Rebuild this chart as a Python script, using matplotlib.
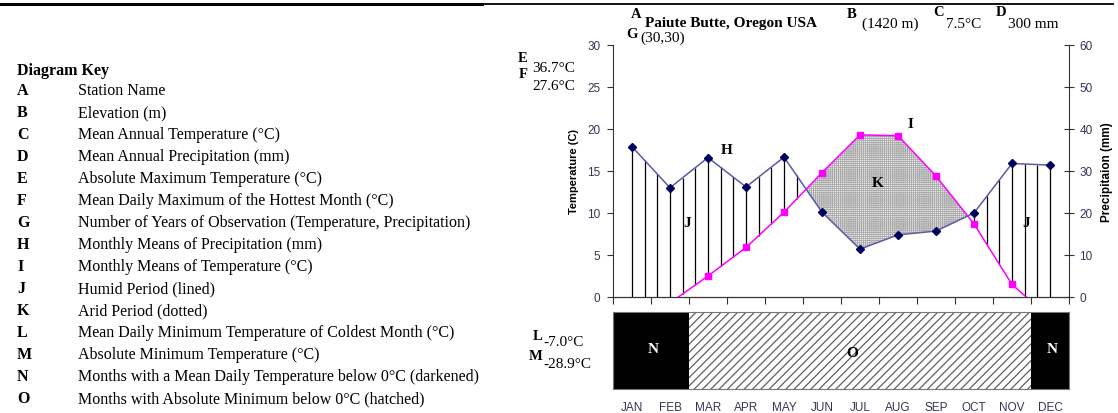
import numpy as np
import matplotlib.pyplot as plt

# monthly climate values
months = ['JAN', 'FEB', 'MAR', 'APR', 'MAY', 'JUN', 'JUL', 'AUG', 'SEP', 'OCT', 'NOV', 'DEC']
temp_c = [-3.1, -0.7, 2.5, 5.9, 10.1, 14.8, 19.3, 19.2, 14.4, 8.7, 1.5, -2.5]
precip_mm = [35.8, 26.0, 33.2, 26.2, 33.3, 20.2, 11.4, 14.8, 15.7, 20.0, 31.8, 31.4]
frost_band = ['N', 'N', 'O', 'O', 'O', 'O', 'O', 'O', 'O', 'O', 'O', 'N']

key_letters = list('ABCDEFGHIJKLMNO')
key_text = [
    'Station Name',
    'Elevation (m)',
    'Mean Annual Temperature (\u00b0C)',
    'Mean Annual Precipitation (mm)',
    'Absolute Maximum Temperature (\u00b0C)',
    'Mean Daily Maximum of the Hottest Month (\u00b0C)',
    'Number of Years of Observation (Temperature, Precipitation)',
    'Monthly Means of Precipitation (mm)',
    'Monthly Means of Temperature (\u00b0C)',
    'Humid Period (lined)',
    'Arid Period (dotted)',
    'Mean Daily Minimum Temperature of Coldest Month (\u00b0C)',
    'Absolute Minimum Temperature (\u00b0C)',
    'Months with a Mean Daily Temperature below 0\u00b0C (darkened)',
    'Months with Absolute Minimum below 0\u00b0C (hatched)',
]

W, H = 1118, 414
SERIF = 'Liberation Serif'
SANS = 'Liberation Sans'
TICK_COLOR = '#3a3355'

plt.rcParams['hatch.linewidth'] = 0.6

fig = plt.figure(figsize=(W / 100, H / 100), dpi=100)


def put(x, y, s, **kw):
    # place text by pixel position measured from the top-left corner
    kw.setdefault('family', SERIF)
    kw.setdefault('va', 'center')
    fig.text(x / W, 1 - y / H, s, **kw)


def ax_rect(l, t, r, b):
    return [l / W, 1 - b / H, (r - l) / W, (b - t) / H]


# rule across the top
fig.add_artist(plt.Line2D([0, 482 / W], [1 - 5 / H] * 2, color='black', lw=2.2))
fig.add_artist(plt.Line2D([482 / W, 1113 / W], [1 - 5 / H] * 2, color='black', lw=1.3))

# ---- diagram key ----
put(17, 71, 'Diagram Key', fontsize=11.5, fontweight='bold')
for i, (k, t) in enumerate(zip(key_letters, key_text)):
    y = 91 + i * 22
    put(17, y, k, fontsize=11.5, fontweight='bold')
    put(78, y, t, fontsize=11.5)

# ---- climate diagram ----
x = np.arange(len(months))
t = np.array(temp_c)
p_half = np.array(precip_mm) / 2.0

ax = fig.add_axes(ax_rect(613, 46, 1069, 298))
ax2 = ax.twinx()

ax.set_xlim(-0.5, 11.5)
ax.set_ylim(0, 30)
ax2.set_ylim(0, 60)

# humid period: vertical lines between temperature and precipitation
xs = np.arange(0, 11.01, 1 / 3)
ti = np.interp(xs, x, t)
pi = np.interp(xs, x, p_half)
wet = pi > ti
ax.vlines(xs[wet], np.maximum(ti[wet], 0), pi[wet], color='black', lw=0.9)

# arid period: dotted fill
ax.fill_between(x, t, p_half, where=t > p_half, interpolate=True,
                facecolor='#f2f2f2', edgecolor='#a8a8a8', hatch='++++++++', linewidth=0)

ax.plot(x, t, color='#ff00ff', lw=1.1, marker='s', markersize=5)
ax2.plot(x, precip_mm, color='#5a5aa6', lw=1.1, marker='D', markersize=4.5,
         markerfacecolor='#000060', markeredgecolor='#000060')

ax.set_yticks(np.arange(0, 31, 5))
ax2.set_yticks(np.arange(0, 61, 10))
ax.set_xticks(np.arange(-0.5, 12, 1))
ax.set_xticklabels([])
ax.tick_params(axis='x', direction='out', length=5, color='#333333')
ax.tick_params(axis='y', direction='out', length=4, labelsize=8.5,
               labelcolor=TICK_COLOR, color='#333333', pad=5)
ax2.tick_params(axis='y', direction='inout', length=7, labelsize=8.5,
                labelcolor=TICK_COLOR, color='#333333', pad=4)
for lab in ax.get_yticklabels() + ax2.get_yticklabels():
    lab.set_family(SANS)

for a in (ax, ax2):
    a.spines['top'].set_visible(False)
    for s in ('left', 'right', 'bottom'):
        a.spines[s].set_color('#333333')
ax2.spines['left'].set_visible(False)
ax.spines['right'].set_visible(False)

ax.set_ylabel('Temperature (C)', family=SANS, fontweight='bold', fontsize=8, labelpad=6)
ax2.set_ylabel('Precipitaion (mm)', family=SANS, fontweight='bold', fontsize=8.5, labelpad=6)

# letters inside the plot
lab_kw = dict(family=SERIF, fontweight='bold', fontsize=11, ha='center', va='center')
ax.text(2.5, 17.6, 'H', **lab_kw)
ax.text(7.32, 20.6, 'I', **lab_kw)
ax.text(6.47, 13.6, 'K', **lab_kw)
ax.text(1.45, 8.9, 'J', **lab_kw)
ax.text(10.37, 8.9, 'J', **lab_kw)

# ---- frost band ----
plt.rcParams['hatch.linewidth'] = 0.9
bx = fig.add_axes(ax_rect(613, 313, 1069, 390))
bx.set_xlim(-0.5, 11.5)
bx.set_ylim(0, 1)
for i, code in enumerate(frost_band):
    if code == 'N':
        bx.bar(i, 1, width=1, align='center', color='black', linewidth=0)
    else:
        bx.bar(i, 1, width=1, align='center', facecolor='white',
               edgecolor='#606060', hatch='////', linewidth=0)
bx.text(0.55, 0.53, 'N', color='white', **lab_kw)
bx.text(11.05, 0.53, 'N', color='white', **lab_kw)
bx.text(5.8, 0.48, 'O', **lab_kw)
bx.set_yticks([])
bx.set_xticks(x)
bx.set_xticklabels(months, family=SANS, fontsize=8.5, color=TICK_COLOR)
bx.tick_params(axis='x', length=0, pad=9)
for s in bx.spines.values():
    s.set_color('#777777')

# ---- header / station data ----
put(636, 14, 'A', fontsize=10.5, fontweight='bold', ha='center')
put(645, 23, 'Paiute Butte, Oregon USA', fontsize=11, fontweight='bold')
put(852, 14, 'B', fontsize=10.5, fontweight='bold', ha='center')
put(862, 24, '(1420 m)', fontsize=11)
put(939, 13, 'C', fontsize=10.5, fontweight='bold', ha='center')
put(946, 24, '7.5\u00b0C', fontsize=11)
put(1001, 13, 'D', fontsize=10.5, fontweight='bold', ha='center')
put(1008, 24, '300 mm', fontsize=11)
put(632, 34, 'G', fontsize=10.5, fontweight='bold', ha='center')
put(640, 38, '(30,30)', fontsize=11)

put(523, 58, 'E', fontsize=10.5, fontweight='bold', ha='center')
put(532, 68, '36.7\u00b0C', fontsize=11)
put(523, 75, 'F', fontsize=10.5, fontweight='bold', ha='center')
put(532, 87, '27.6\u00b0C', fontsize=11)

put(542, 336, 'L', fontsize=10.5, fontweight='bold', ha='right')
put(543, 343, '-7.0\u00b0C', fontsize=11)
put(542, 357, 'M', fontsize=10.5, fontweight='bold', ha='right')
put(543, 365, '-28.9\u00b0C', fontsize=11)

fig.savefig('out.png', dpi=100)
